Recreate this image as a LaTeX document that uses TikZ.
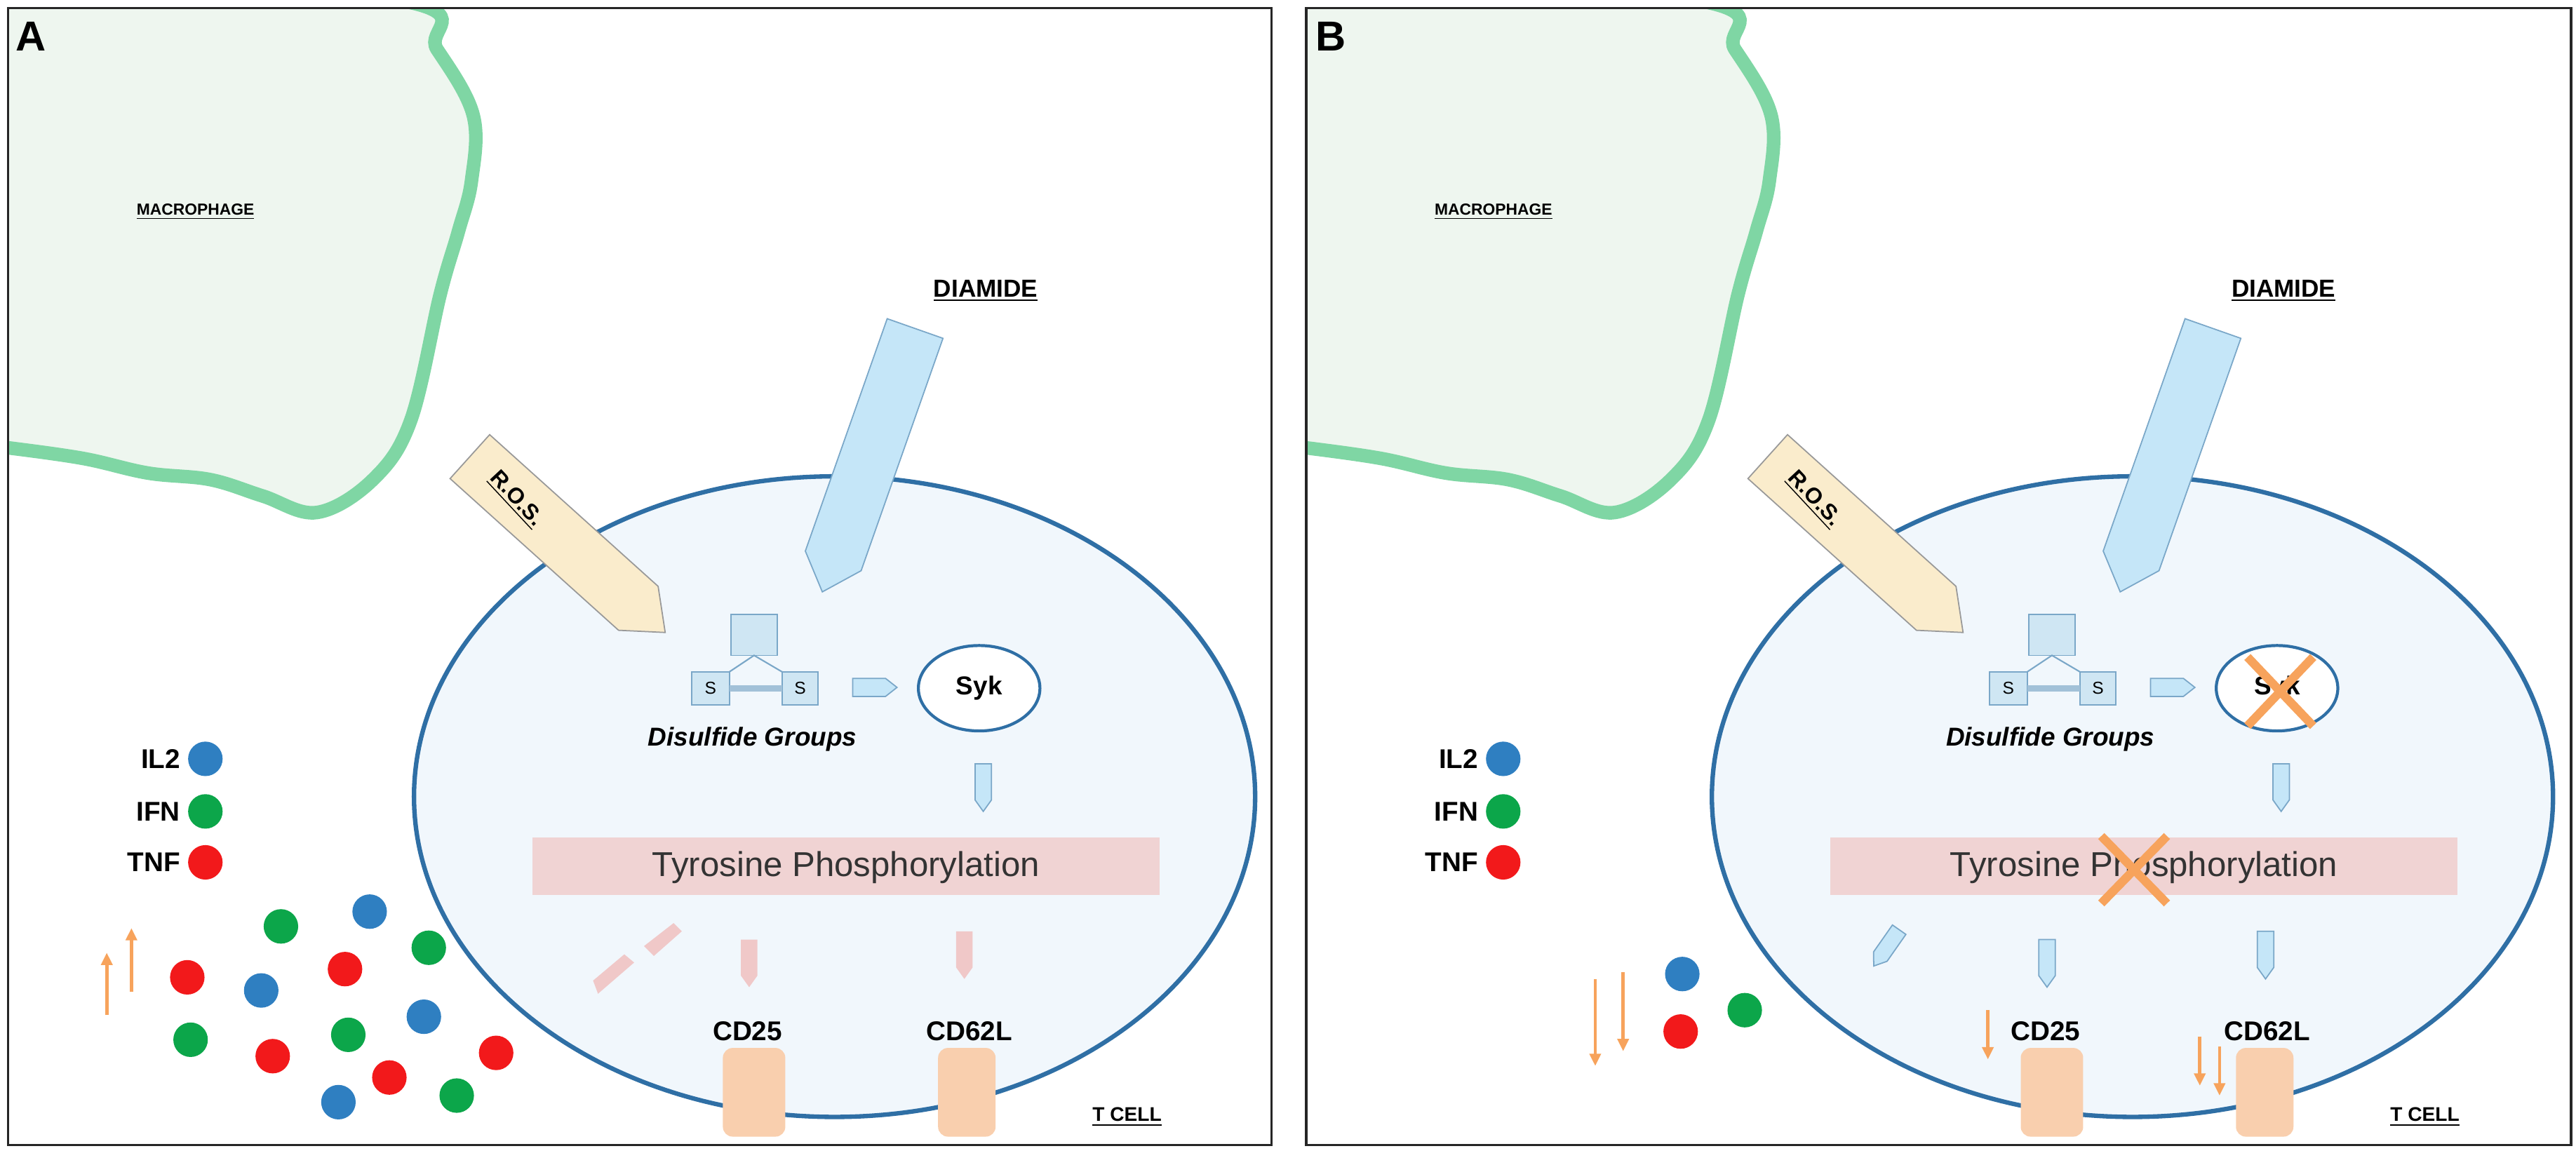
\documentclass[tikz,border=0pt]{standalone}
\usepackage{fontspec}
\setmainfont{Liberation Sans}
\usetikzlibrary{arrows.meta}
\definecolor{mgreen}{HTML}{7FD6A4}
\definecolor{mfill}{HTML}{EEF6EF}
\definecolor{cellb}{HTML}{2F6FA5}
\definecolor{cellf}{HTML}{F1F7FC}
\definecolor{rosf}{HTML}{FAECCC}
\definecolor{diaf}{HTML}{C5E6F8}
\definecolor{dial}{HTML}{7AA7C8}
\definecolor{dsf}{HTML}{CFE6F3}
\definecolor{tyr}{HTML}{F0D3D3}
\definecolor{pinka}{HTML}{F0C8C8}
\definecolor{rec}{HTML}{F9CFAE}
\definecolor{orng}{HTML}{F7A35C}
\definecolor{cblue}{HTML}{2F7FC1}
\definecolor{cgreen}{HTML}{0CA64A}
\definecolor{cred}{HTML}{F2191B}
\tikzset{
  x=0.2342mm, y=-0.2342mm,
  frame/.style={draw=black!85, line width=1pt},
  ulab/.style={font=\bfseries, inner sep=1pt},
  smarrow/.pic={\path[pic actions] (-5,0) -- (5,0) -- (5,22) -- (0,29) -- (-5,22) -- cycle;},
  uparr/.style={orng, line width=1.3pt, -{Triangle[length=5pt,width=4.5pt]}},
}
\newcommand\ul[1]{\underline{#1}}
\newcommand\common{%
  % macrophage
  \draw[mgreen, line width=5.5pt, fill=mfill] plot[smooth, tension=0.6] coordinates {(-20,-20) (242,0) (266,30) (288,70) (287,110) (279,141) (268,179) (250,256) (227,292) (193,312) (160,302) (128,292) (90,288) (50,279) (0,272) (-20,270)} -- cycle;
  \node[ulab, font=\bfseries\fontsize{6.5}{7}\selectfont] (mac) at (119,129) {\ul{MACROPHAGE}};
  \node[ulab, font=\bfseries\fontsize{10}{11}\selectfont] (dia) at (600,177) {\ul{DIAMIDE}};
  % T cell
  \draw[cellb, line width=1.8pt, fill=cellf] (508,485) ellipse [x radius=256, y radius=195];
  \node (tcell) at (508,485) {};
  % ROS arrow
  \begin{scope}[shift={(286,278)}, rotate=-42]
    \draw[black!40, fill=rosf, line width=0.5pt] (0,-18) -- (138,-18) -- (160,0) -- (138,18) -- (0,18) -- cycle;
  \end{scope}
  \node[ulab, rotate=-47, font=\bfseries\fontsize{9}{10}\selectfont] (ros) at (314,304) {\ul{R.O.S.}};
  % Diamide arrow
  \begin{scope}[shift={(557,200)}, rotate=-109.4]
    \draw[dial, fill=diaf, line width=0.5pt] (0,-18) -- (150,-18) -- (170,0) -- (150,18) -- (0,18) -- cycle;
  \end{scope}
  % Disulfide
  \draw[dial, fill=dsf, line width=0.5pt] (445,374) rectangle (473,399);
  \draw[dial, fill=dsf, line width=0.5pt] (421,409) rectangle (444,429);
  \draw[dial, fill=dsf, line width=0.5pt] (476,409) rectangle (498,429);
  \draw[dial, line width=0.6pt] (444,409) -- (459,399) -- (476,409);
  \draw[dial!70, line width=2.5pt] (444,419) -- (476,419);
  \node[font=\fontsize{7}{8}\selectfont] (s1) at (432.5,419) {S};
  \node[font=\fontsize{7}{8}\selectfont] (s2) at (487,419) {S};
  \node[font=\bfseries\itshape\fontsize{10.5}{12}\selectfont] (dsg) at (458,450) {Disulfide Groups};
  \path[draw=dial, fill=diaf, line width=0.5pt] (519,413) -- (539,413) -- (546,418.5) -- (539,424) -- (519,424) -- cycle;
  \draw[cellb, line width=1.2pt, fill=white] (596,419) ellipse [x radius=37, y radius=26];
  \node[font=\bfseries\fontsize{10.5}{12}\selectfont] (syk) at (596,419) {Syk};
  \pic[draw=dial, fill=diaf, line width=0.5pt] at (598.5,465) {smarrow};
  % tyrosine
  \fill[tyr] (324,510) rectangle (706,545);
  \node[font=\fontsize{14}{16}\selectfont, text=black!80] (tyro) at (515,528) {Tyrosine Phosphorylation};
  % labels
  \node[font=\bfseries\fontsize{11}{12}\selectfont] (cd25) at (455,628) {CD25};
  \node[font=\bfseries\fontsize{11}{12}\selectfont] (cd62) at (590,628) {CD62L};
  \fill[rec, rounded corners=4pt] (440,638) rectangle (478,692);
  \fill[rec, rounded corners=4pt] (571,638) rectangle (606,692);
  \node[ulab, font=\bfseries\fontsize{8}{9}\selectfont] (tc) at (686,680) {\ul{T CELL}};
  % legend
  \node[font=\bfseries\fontsize{11}{12}\selectfont, anchor=east] (il2) at (115,462) {IL2};
  \node[font=\bfseries\fontsize{11}{12}\selectfont, anchor=east] (ifn) at (115,494) {IFN};
  \node[font=\bfseries\fontsize{11}{12}\selectfont, anchor=east] (tnf) at (115,525) {TNF};
  \fill[cblue] (125,462) circle (10.5);
  \fill[cgreen] (125,494) circle (10.5);
  \fill[cred] (125,525) circle (10.5);
}
\begin{document}
\begin{tikzpicture}
\useasboundingbox (0,0) rectangle (1568,705);
% ---------- Panel A
\begin{scope}[name prefix=A-]
  \begin{scope}
    \clip (5,5) rectangle (774,697);
    \common
    % pink arrows
    \fill[pinka] (415,567) -- (410,562) -- (392,576) -- (398,582) -- cycle;
    \fill[pinka] (386,586) -- (380,581) -- (361,597) -- (364,605) -- cycle;
    \pic[fill=pinka] at (456,572) {smarrow};
    \pic[fill=pinka] at (587,567) {smarrow};
    % cytokines
    \foreach \p/\c in {{(225,555)}/cblue,{(171,564)}/cgreen,{(261,577)}/cgreen,{(114,595)}/cred,{(210,590)}/cred,{(159,603)}/cblue,{(258,619)}/cblue,{(116,633)}/cgreen,{(212,630)}/cgreen,{(166,643)}/cred,{(302,641)}/cred,{(237,656)}/cred,{(278,667)}/cgreen,{(206,671)}/cblue}
      \fill[\c] \p circle (10.5);
  \end{scope}
  \coordinate (u1s) at (65,618); \coordinate (u1e) at (65,580);
  \coordinate (u2s) at (80,604); \coordinate (u2e) at (80,565);
  \draw[uparr] (u1s) -- (u1e);
  \draw[uparr] (u2s) -- (u2e);
  \node[font=\bfseries\fontsize{17}{18}\selectfont] (lab) at (19,22) {A};
  \draw[frame] (5,5) rectangle (774,697);
\end{scope}
% ---------- Panel B
\begin{scope}[name prefix=B-]
  \begin{scope}
    \clip (795,5) rectangle (1565,697);
    \begin{scope}[xshift=790*0.2342mm]
      \common
      \begin{scope}[shift={(366,566)}, rotate=-125]
        \draw[dial, fill=diaf, line width=0.5pt] (0,-5) -- (20,-5) -- (27,0) -- (20,5) -- (0,5) -- cycle;
      \end{scope}
      \pic[draw=dial, fill=diaf, line width=0.5pt] at (456,572) {smarrow};
      \pic[draw=dial, fill=diaf, line width=0.5pt] at (589,567) {smarrow};
      \fill[cblue] (234,593) circle (10.5);
      \fill[cred] (233,628) circle (10.5);
      \fill[cgreen] (272,615) circle (10.5);
      \draw[orng, line width=3.5pt] (578,400) -- (618,442) (618,400) -- (578,442);
      \draw[orng, line width=3.5pt] (489,509) -- (529,550) (529,509) -- (489,550);
      \coordinate (d1s) at (181,596); \coordinate (d1e) at (181,649);
      \coordinate (d2s) at (198,592); \coordinate (d2e) at (198,640);
      \coordinate (d3s) at (420,615); \coordinate (d3e) at (420,645);
      \coordinate (d4s) at (549,631); \coordinate (d4e) at (549,661);
      \coordinate (d5s) at (561,637); \coordinate (d5e) at (561,667);
      \foreach \n in {1,...,5} \draw[uparr] (d\n s) -- (d\n e);
    \end{scope}
  \end{scope}
  \node[font=\bfseries\fontsize{17}{18}\selectfont] (lab) at (810,22) {B};
  \draw[frame] (795,5) rectangle (1565,697);
\end{scope}
\end{tikzpicture}
\end{document}
